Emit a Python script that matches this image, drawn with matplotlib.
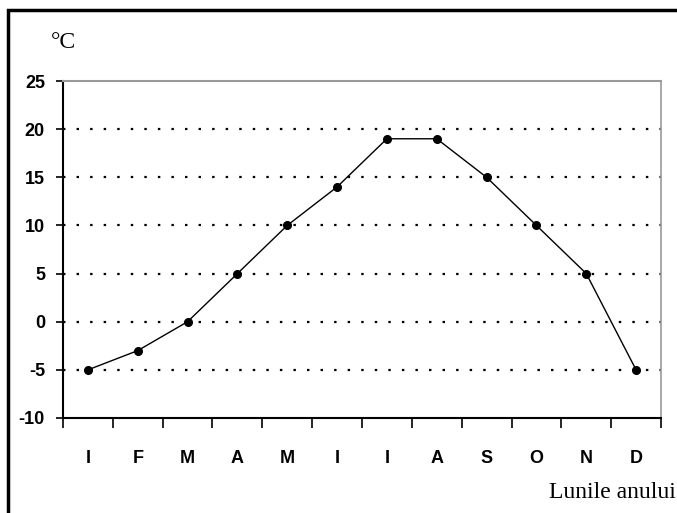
import numpy as np
import matplotlib.pyplot as plt
from matplotlib.patches import Rectangle

months = ['I', 'F', 'M', 'A', 'M', 'I', 'I', 'A', 'S', 'O', 'N', 'D']
temps = [-5, -3, 0, 5, 10, 14, 19, 19, 15, 10, 5, -5]
yticks = [-10, -5, 0, 5, 10, 15, 20, 25]

fig = plt.figure(figsize=(6.77, 5.13), dpi=100)
ax = fig.add_axes([63/677, 95/513, 598/677, 337/513])

x = np.arange(len(months))
ax.plot(x, temps, color='black', linewidth=1, marker='o', markersize=5.5)

ax.set_xlim(-0.5, len(months) - 0.5)
ax.set_ylim(-10, 25)
ax.set_yticks(yticks)
ax.set_yticklabels([str(v) for v in yticks], fontsize=13, fontweight='bold',
                   family='Liberation Sans')
ax.set_xticks(x)
ax.set_xticklabels(months, fontsize=13, fontweight='bold', family='Liberation Sans')
ax.set_xticks(np.arange(-0.5, len(months)), minor=True)
ax.tick_params(axis='x', which='major', length=0, pad=23)
ax.tick_params(axis='x', which='minor', length=7, width=1.2, direction='out')
ax.tick_params(axis='y', length=5, width=1.2, direction='out', pad=8)

for v in yticks[1:-1]:
    ax.axhline(v, color='black', linewidth=1.6, linestyle=(0, (1.1, 5)), zorder=0)

ax.spines['left'].set_linewidth(1.5)
ax.spines['bottom'].set_linewidth(1.5)
ax.spines['top'].set_color('#999999')
ax.spines['right'].set_color('#999999')
ax.spines['top'].set_linewidth(1.5)
ax.spines['right'].set_linewidth(1.2)

fig.text(51/677, 1 - 48/513, '°C', fontsize=17, family='Liberation Serif', va='baseline')
fig.text(549/677, 1 - 498/513, 'Lunile anului', fontsize=17, family='Liberation Serif',
         va='baseline')

fig.patches.append(Rectangle((8/677, -0.2), 1.2, 1.2 - 10/513,
                             transform=fig.transFigure, fill=False,
                             edgecolor='black', linewidth=2.5))

fig.savefig('out.png', dpi=100)
